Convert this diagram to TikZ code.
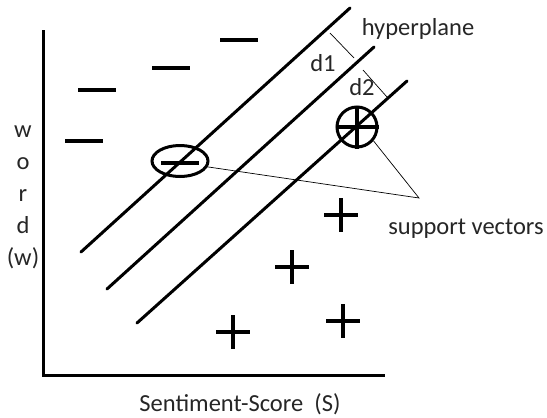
\documentclass[tikz,border=0pt]{standalone}
\usepackage{fontspec}
\setmainfont{Carlito}
\usetikzlibrary{shapes.geometric}
\definecolor{labelgray}{gray}{0.15}

\begin{document}
\begin{tikzpicture}[
  x=1pt, y=-1pt,
  axis/.style={line width=3pt},
  hplane/.style={line width=3pt, line cap=round},
  sign/.style={line width=3.2pt},
  gap/.style={line width=0.7pt},
  pointer/.style={line width=0.7pt},
  lbl/.style={font=\fontsize{24.5}{29}\selectfont, color=labelgray, inner sep=0pt},
  svring/.style={draw, line width=3pt, inner sep=0pt}
]
  \useasboundingbox (0,0) rectangle (547,418);

  % Axes
  \draw[axis] (43,30) -- (43,375) -- (385,375);
  \node[lbl] (xlabel) at (240,404) {Sentiment-Score~ (S)};
  \node[lbl, align=center] (ylabel) at (23,197) {w\\[3pt]o\\[3pt]r\\[3pt]d\\[3pt](w)};

  % Negative class
  \foreach \x/\y in {84/141, 97/90, 171/68, 239/40} {
    \draw[sign] (\x-19,\y) -- (\x+19,\y);
  }

  % Positive class
  \foreach \x/\y in {341/215, 292/267, 233/332, 343/321} {
    \draw[sign] (\x-17,\y) -- (\x+17,\y) (\x,\y-17) -- (\x,\y+17);
  }

  % Hyperplanes
  \draw[hplane] (81,252) -- (350,8);
  \draw[hplane] (107,289) -- (374,47);
  \draw[hplane] (137,323) -- (407,81);

  % Margins
  \draw[gap] (330,33) -- (354,58);
  \node[lbl] (done) at (323,63) {d1};
  \draw[gap] (363,70) -- (387,97);
  \node[lbl] (dtwo) at (362,87) {d2};
  \node[lbl] (hyper) at (418,29) {hyperplane};

  % Support vectors
  \node[svring, ellipse, minimum width=56pt, minimum height=31pt] (svneg) at (180,161) {};
  \draw[sign] (161,163) -- (199,163);
  \node[svring, circle, minimum size=40pt] (svpos) at (357,127) {};
  \draw[sign] (svpos.west) -- (svpos.east) (svpos.north) -- (svpos.south);

  \coordinate (sv) at (419,198);
  \draw[pointer] (svneg.-12) -- (sv) -- (svpos.-40);
  \node[lbl] (svtext) at (466,229) {support vectors};
\end{tikzpicture}
\end{document}
